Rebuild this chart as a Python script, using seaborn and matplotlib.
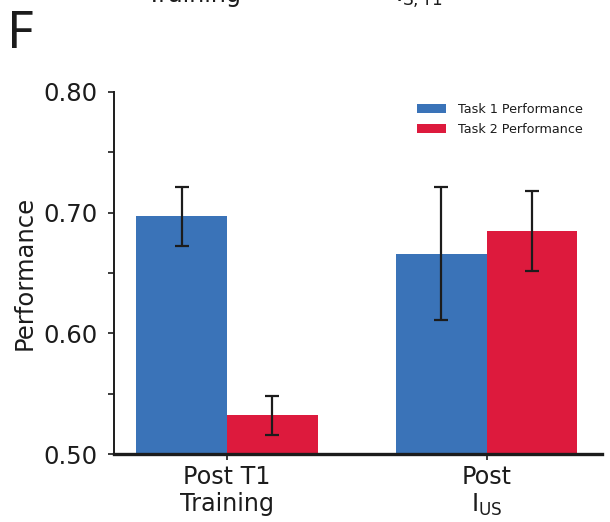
import matplotlib
matplotlib.use("Agg")
import matplotlib.pyplot as plt
from matplotlib.ticker import MultipleLocator, FormatStrFormatter
import seaborn as sns
import pandas as pd

# Mean performance and error for each task after each training stage
conditions = ["Post T1\nTraining", "Post\n$\\mathregular{I_{US}}$"]
task1_mean = [0.697, 0.666]
task1_err = [0.0245, 0.055]
task2_mean = [0.532, 0.685]
task2_err = [0.0165, 0.033]
series = ["Task 1 Performance", "Task 2 Performance"]
colors = ["#3a73b8", "#dd1a3d"]

df = pd.DataFrame({
    "condition": conditions * 2,
    "task": [series[0]] * 2 + [series[1]] * 2,
    "perf": task1_mean + task2_mean,
    "err": task1_err + task2_err,
})

sns.set_style("ticks")
plt.rcParams["font.family"] = ["DejaVu Sans"]
ink = "#1c1c1c"

fig = plt.figure(figsize=(6.10, 5.22), dpi=100)
ax = fig.add_axes([0.187, 0.130, 0.800, 0.694])

sns.barplot(data=df, x="condition", y="perf", hue="task", palette=colors,
            errorbar=None, width=0.7, saturation=1, linewidth=0, ax=ax)

# error bars at the centres of the drawn bars
for cont, (_, sub) in zip(ax.containers, df.groupby("task", sort=False)):
    for patch, val, err in zip(cont.patches, sub["perf"], sub["err"]):
        cx = patch.get_x() + patch.get_width() / 2
        ax.errorbar(cx, val, yerr=err, color=ink, lw=1.6,
                    capsize=5, capthick=1.6, zorder=5)

ax.set_ylim(0.50, 0.80)
ax.set_xlim(-0.435, 1.445)
ax.yaxis.set_major_locator(MultipleLocator(0.10))
ax.yaxis.set_minor_locator(MultipleLocator(0.05))
ax.yaxis.set_major_formatter(FormatStrFormatter("%.2f"))
ax.tick_params(axis="y", which="both", length=4, width=1.2, pad=8,
               labelsize=17.5, colors=ink)
ax.tick_params(axis="x", length=4, width=1.2, pad=4, labelsize=17.2,
               colors=ink)
for lab in ax.get_xticklabels():
    lab.set_linespacing(1.12)
ax.set_xlabel("")
ax.set_ylabel("Performance", fontsize=17.5, labelpad=5, color=ink)
for s in ("left", "bottom"):
    ax.spines[s].set_color(ink)
ax.spines["left"].set_linewidth(1.4)
ax.spines["bottom"].set_linewidth(2.4)
sns.despine(ax=ax)

leg = ax.legend(loc="upper right", bbox_to_anchor=(0.985, 1.002),
                frameon=False, fontsize=9.2, handlelength=2.2,
                handletextpad=1.0, labelspacing=0.55)
for t in leg.get_texts():
    t.set_color(ink)

fig.text(0.011, 0.908, "F", fontsize=37, family="Noto Sans",
         va="baseline", ha="left", color=ink)
# lower edge of the neighbouring panel's tick labels
fig.text(0.318, 0.996, "Training", fontsize=17.2, ha="center",
         va="baseline", color=ink)
fig.text(0.686, 0.996, "$\\mathregular{I_{S,T1}}$", fontsize=17.2,
         ha="center", va="baseline", color=ink)

fig.savefig("out.png", dpi=100)
